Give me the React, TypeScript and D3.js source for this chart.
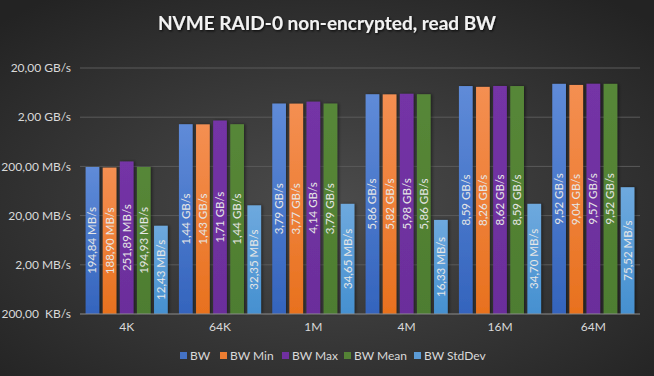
import React from "react";
import * as d3 from "d3";

const categories = ["4K", "64K", "1M", "4M", "16M", "64M"];
const seriesNames = ["BW", "BW Min", "BW Max", "BW Mean", "BW StdDev"];
// values in MB/s
const bw = [194.84, 1440, 3790, 5860, 8590, 9520];
const bwMin = [188.9, 1430, 3770, 5820, 8260, 9040];
const bwMax = [251.89, 1710, 4140, 5980, 8620, 9570];
const bwMean = [194.93, 1440, 3790, 5860, 8590, 9520];
const bwStd = [12.43, 32.35, 34.65, 16.33, 34.7, 75.52];
const seriesValues = [bw, bwMin, bwMax, bwMean, bwStd];
const tickValues = [20000, 2000, 200, 20, 2, 0.2];
const tickLabels = ["20,00 GB/s", "2,00 GB/s", "200,00 MB/s", "20,00 MB/s", "2,00 MB/s", "200,00  KB/s"];

const colors = [
  ["#5f8bd8", "#3464bd"],
  ["#f48f52", "#e8711e"],
  ["#7434a6", "#6b2e9b"],
  ["#578738", "#4e7d30"],
  ["#6ea9de", "#4590d0"],
];
const legendColors = ["#4472c4", "#ed7d31", "#7030a0", "#548235", "#5b9bd5"];

const W = 654, H = 376;
const FONT = "Lato, 'Open Sans', sans-serif";

function fmt(v: number) {
  if (v >= 1000) return (v / 1000).toFixed(2).replace(".", ",") + " GB/s";
  return v.toFixed(2).replace(".", ",") + " MB/s";
}

export default function App() {
  const x0 = d3.scaleBand<string>().domain(categories).range([80, 640]).paddingInner(0.12).paddingOuter(0.06);
  const x1 = d3.scaleBand<number>().domain(d3.range(5)).range([0, x0.bandwidth()]).paddingInner(0.2).paddingOuter(0);
  const y = d3.scaleLog().domain([0.2, 20000]).range([314, 68]);
  const legendX = [180, 220, 282, 344, 414];

  return (
    <svg width={W} height={H} style={{ position: "absolute", left: 0, top: 0 }} fontFamily={FONT}>
      <defs>
        <radialGradient id="bg" cx="50%" cy="55%" r="70%">
          <stop offset="0%" stopColor="#4c4c4c" />
          <stop offset="100%" stopColor="#232323" />
        </radialGradient>
        {colors.map((c, i) => (
          <linearGradient key={i} id={`g${i}`} x1="0" y1="0" x2="0" y2="1">
            <stop offset="0%" stopColor={c[0]} />
            <stop offset="100%" stopColor={c[1]} />
          </linearGradient>
        ))}
        <filter id="sh" x="-30%" y="-10%" width="160%" height="120%">
          <feDropShadow dx="1.5" dy="0" stdDeviation="1.5" floodColor="#000" floodOpacity="0.45" />
        </filter>
        <filter id="tsh">
          <feDropShadow dx="1" dy="1.2" stdDeviation="0.8" floodColor="#000" floodOpacity="0.8" />
        </filter>
      </defs>
      <rect width={W} height={H} fill="url(#bg)" />
      <text x={W / 2} y={30} textAnchor="middle" fill="#f2f2f2" fontSize={19} fontWeight="bold" filter="url(#tsh)">
        NVME RAID-0 non-encrypted, read BW
      </text>
      {tickValues.map((t, i) => (
        <g key={i}>
          {i < tickValues.length - 1 && (
            <line x1={80} x2={640} y1={y(t)} y2={y(t)} stroke="#5a5a5a" strokeWidth={1} />
          )}
          <text x={71} y={y(t)} dy="0.35em" textAnchor="end" fill="#d9d9d9" fontSize={12} style={{ whiteSpace: "pre" }}>
            {tickLabels[i]}
          </text>
        </g>
      ))}
      {categories.map((c, ci) => (
        <g key={c}>
          {seriesValues.map((vals, si) => {
            const bx = (x0(c) as number) + (x1(si) as number);
            const top = y(vals[ci]);
            const bot = y(0.2);
            const cx = bx + x1.bandwidth() / 2;
            const cy = (top + bot) / 2;
            return (
              <g key={si}>
                <rect x={bx} y={top} width={x1.bandwidth()} height={bot - top} fill={`url(#g${si})`} filter="url(#sh)" />
                <text
                  transform={`translate(${cx},${cy}) rotate(-90)`}
                  textAnchor="middle"
                  dy="0.35em"
                  fill="#e6e6e6"
                  fontSize={11.5}
                >
                  {fmt(vals[ci])}
                </text>
              </g>
            );
          })}
          <text x={(x0(c) as number) + x0.bandwidth() / 2} y={327} dy="0.35em" textAnchor="middle" fill="#d9d9d9" fontSize={12}>
            {c}
          </text>
        </g>
      ))}
      <line x1={80} x2={640} y1={y(0.2)} y2={y(0.2)} stroke="#8c8c8c" strokeWidth={1} />
      {seriesNames.map((n, i) => (
        <g key={n}>
          <rect x={legendX[i]} y={352} width={7} height={7} fill={legendColors[i]} />
          <text x={legendX[i] + 10} y={356} dy="0.35em" fill="#d9d9d9" fontSize={12}>
            {n}
          </text>
        </g>
      ))}
    </svg>
  );
}
